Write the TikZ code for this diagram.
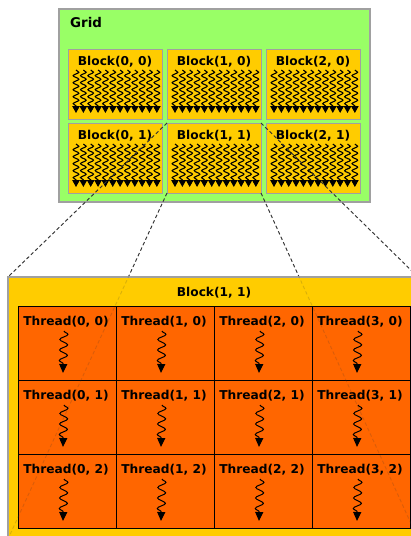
\documentclass[tikz,border=0pt]{standalone}
\usepackage{fontspec}
\setmainfont{DejaVu Sans}
\usetikzlibrary{decorations.pathmorphing,arrows.meta}
\definecolor{gridgreen}{HTML}{99FF66}
\definecolor{blockyellow}{HTML}{FFCC00}
\definecolor{threadorange}{HTML}{FF6600}
\definecolor{bordergray}{HTML}{A0A0A0}
\tikzset{
  box/.style={inner sep=0pt, outer sep=0pt, anchor=north west},
  gridbox/.style={box, fill=gridgreen, draw=bordergray, line width=1.3pt},
  blockbox/.style={box, fill=blockyellow, draw=bordergray, line width=1pt},
  threadbox/.style={box, fill=threadorange, draw=black, line width=0.9pt},
  lbl/.style={font=\fontsize{12.2}{14}\selectfont\bfseries, inner sep=0pt, text=black},
  smallsquig/.style={line width=1.1pt, decorate,
    decoration={snake, amplitude=2.8pt, segment length=7pt, post length=5pt},
    -{Triangle[width=7.5pt,length=7pt]}},
  bigsquig/.style={line width=1pt, decorate,
    decoration={snake, amplitude=4pt, segment length=10.5pt, post length=7pt},
    -{Triangle[width=8pt,length=9pt]}},
  link/.style={dash pattern=on 3.5pt off 2.5pt, line width=0.9pt, draw=black!80},
  faintlink/.style={link, draw opacity=0.18}
}
\begin{document}
\begin{tikzpicture}[x=1pt,y=-1pt]
\useasboundingbox (0,0) rectangle (411,536);
\clip (0,0) rectangle (411,536);
% grid
\node[gridbox, minimum width=311pt, minimum height=193pt] (grid) at (59,9) {};
\node[lbl, font=\fontsize{13.4}{15}\selectfont\bfseries, anchor=west] (gridlabel) at (70,23) {Grid};
\foreach \i in {0,1,2}{
  \foreach \j in {0,1}{
    \pgfmathsetmacro{\bx}{68+99*\i}
    \pgfmathsetmacro{\by}{49+74*\j}
    \node[blockbox, minimum width=94pt, minimum height=70pt] (b\i\j) at (\bx,\by) {};
    \node[lbl] (bl\i\j) at (\bx+47,\by+13) {Block(\i, \j)};
    \foreach \k in {0,...,11}{
      \coordinate (s\i\j\k) at (\bx+8+7.35*\k,\by+21);
      \coordinate (e\i\j\k) at (\bx+8+7.35*\k,\by+64);
      \draw[smallsquig] (s\i\j\k) -- (e\i\j\k);
    }
  }
}
% big block corners
\coordinate (bigNW) at (8,277);
\coordinate (bigNE) at (418,277);
\coordinate (bigSW) at (8,539);
\coordinate (bigSE) at (418,539);
% links (under big block)
\draw[link] (b11.north west) -- (bigNW);
\draw[link] (b11.south west) -- (bigSW);
\draw[link] (b11.north east) -- (bigNE);
\draw[link] (b11.south east) -- (bigSE);
% big block
\node[blockbox, line width=1.2pt, minimum width=410pt, minimum height=262pt] (big) at (bigNW) {};
\node[lbl] (biglabel) at (214,293) {Block(1, 1)};
\foreach \i in {0,1,2,3}{
  \foreach \j in {0,1,2}{
    \pgfmathsetmacro{\tx}{18+98*\i}
    \pgfmathsetmacro{\ty}{306+74*\j}
    \node[threadbox, minimum width=98pt, minimum height=74pt] (t\i\j) at (\tx,\ty) {};
    \node[lbl] (tl\i\j) at (\tx+48,\ty+16) {Thread(\i, \j)};
    \coordinate (ts\i\j) at (\tx+46,\ty+25);
    \coordinate (te\i\j) at (\tx+45,\ty+67);
    \draw[bigsquig] (ts\i\j) -- (te\i\j);
  }
}
% faint links over big block
\draw[faintlink] (b11.north west) -- (bigNW);
\draw[faintlink] (b11.south west) -- (bigSW);
\draw[faintlink] (b11.north east) -- (bigNE);
\draw[faintlink] (b11.south east) -- (bigSE);
\end{tikzpicture}
\end{document}
